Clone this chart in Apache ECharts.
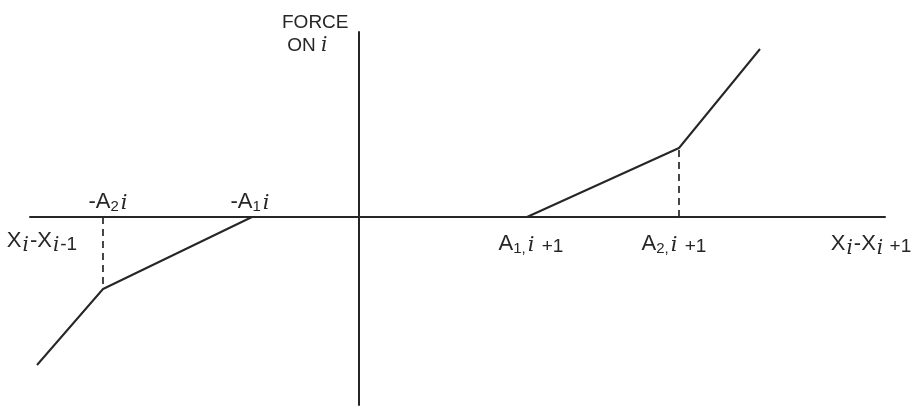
<!DOCTYPE html>
<html>
<head>
<meta charset="utf-8">
<script src="https://cdn.jsdelivr.net/npm/echarts@6/dist/echarts.min.js"></script>
<style>
  html, body { margin: 0; background: #fff; }
  #chart { width: 923px; height: 408px; }
</style>
</head>
<body>
<div id="chart"></div>
<script>
// piecewise force law (1 unit ~ 10px)
const leftBranch = [[-32.2, -14.8], [-25.6, -7.2], [-10.7, 0]]
const rightBranch = [[16.8, 0], [32.0, 6.9], [40.1, 16.8]]
const leftDrop = [[-25.6, 0], [-25.6, -7.2]]
const rightDrop = [[32.0, 0], [32.0, 6.9]]

const labelPoints = [[-25.0, 1.5], [-10.8, 1.5], [-31.7, -2.4], [17.2, -2.7], [31.5, -2.7], [51.2, -2.7]]
const labelTexts = [
  "-A{s|2}{i|i}",
  "-A{s|1}{i|i}",
  "X{d|i}-X{d|i}{q|-1}",
  "A{s|1,}{i|i}{p| +1}",
  "A{s|2,}{i|i}{p| +1}",
  "X{d|i}-X{d|i}{p| +1}"
]

const ink = "#262626"
const font = "Liberation Sans"

const rich = {
  s: { fontSize: 15, fontFamily: font, color: ink, padding: [9, 0, 0, 0] },
  i: { fontSize: 21, fontFamily: "DejaVu Serif", fontStyle: "italic", color: ink, padding: [3, 2, 0, 2] },
  d: { fontSize: 20, fontFamily: "DejaVu Serif", fontStyle: "italic", color: ink, padding: [10, 1, 0, 1] },
  q: { fontSize: 19, fontFamily: font, color: ink, padding: [8, 0, 0, 0] },
  p: { fontSize: 19, fontFamily: font, color: ink, padding: [5, 0, 0, 0] }
}

const chart = echarts.init(document.getElementById("chart"), null, { renderer: "canvas" })

const plainLine = (data, dashed) => ({
  type: "line",
  data,
  symbol: "none",
  silent: true,
  animation: false,
  lineStyle: { color: ink, width: dashed ? 1.7 : 2, type: dashed ? [7, 5] : "solid" }
})

chart.setOption({
  backgroundColor: "#fff",
  animation: false,
  title: {
    text: "{a|FORCE}\n{a| ON }{i|i}",
    left: 277,
    top: 6,
    textStyle: {
      fontWeight: "normal",
      rich: {
        a: { fontSize: 19, fontFamily: font, color: ink, lineHeight: 23 },
        i: { fontSize: 20, fontFamily: "DejaVu Serif", fontStyle: "italic", color: ink, lineHeight: 23 }
      }
    }
  },
  grid: { left: 30, right: 38, top: 32, bottom: 3 },
  xAxis: {
    type: "value",
    min: -32.9,
    max: 52.6,
    axisLine: { onZero: true, lineStyle: { color: ink, width: 2 } },
    axisTick: { show: false },
    axisLabel: { show: false },
    splitLine: { show: false }
  },
  yAxis: {
    type: "value",
    min: -18.8,
    max: 18.5,
    axisLine: { onZero: true, lineStyle: { color: ink, width: 2 } },
    axisTick: { show: false },
    axisLabel: { show: false },
    splitLine: { show: false }
  },
  series: [
    plainLine(leftBranch, false),
    plainLine(rightBranch, false),
    plainLine(leftDrop, true),
    plainLine(rightDrop, true),
    {
      type: "scatter",
      silent: true,
      symbolSize: 0,
      itemStyle: { color: ink, opacity: 1 },
      data: labelPoints.map((p, i) => ({ value: p, label: { formatter: labelTexts[i] } })),
      label: {
        show: true,
        position: "inside",
        fontSize: 22,
        fontFamily: font,
        color: ink,
        opacity: 1,
        rich
      }
    }
  ]
})
</script>
</body>
</html>
